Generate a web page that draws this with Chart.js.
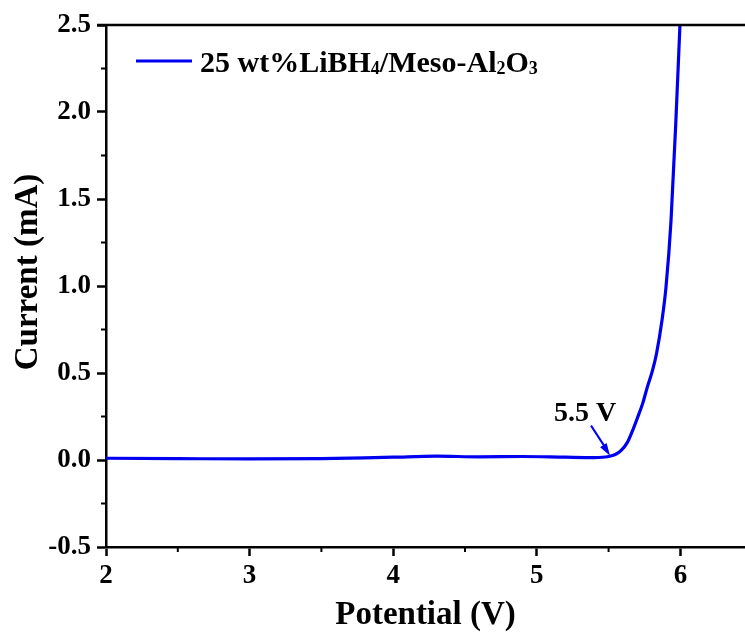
<!DOCTYPE html>
<html>
<head>
<meta charset="utf-8">
<script src="https://cdn.jsdelivr.net/npm/chart.js@4"></script>
<style>
  html, body { margin: 0; padding: 0; background: #fff; }
  #wrap { width: 745px; height: 635px; }
</style>
</head>
<body>
<div id="wrap"><canvas id="lsv"></canvas></div>
<script>
// Potential (V) / current (mA)
const potential = [2.0, 2.5, 3.0, 3.5, 3.8, 4.0, 4.3, 4.6, 4.9, 5.2, 5.4, 5.5, 5.55, 5.586, 5.63, 5.667, 5.70, 5.737, 5.77, 5.806, 5.834, 5.872, 5.90, 5.935, 5.969, 5.997];
const current = [0.01, 0.008, 0.006, 0.008, 0.012, 0.016, 0.022, 0.018, 0.02, 0.016, 0.014, 0.02, 0.033, 0.054, 0.1, 0.169, 0.24, 0.324, 0.42, 0.515, 0.612, 0.803, 0.995, 1.379, 1.956, 2.5];
const xTicks = [2, 3, 4, 5, 6];
const xMinor = [2.5, 3.5, 4.5, 5.5];
const yTicks = [-0.5, 0.0, 0.5, 1.0, 1.5, 2.0, 2.5];
const yMinor = [-0.25, 0.25, 0.75, 1.25, 1.75, 2.25];
const seriesLabel = ['25 wt%LiBH', '4', '/Meso-Al', '2', 'O', '3'];
const yTitle = 'Current (mA)';
const onsetLabel = '5.5 V';
const onset = [5.51, 0.025];

const FONT = '"Liberation Serif", "Times New Roman", serif';
const BLUE = 'rgb(0, 0, 240)';

// Ticks mineurs, bordure haute, légende, titre Y et flèche
const decor = {
    id: 'decor',
    afterDraw(chart) {
        const ctx = chart.ctx;
        const area = chart.chartArea;
        const xs = chart.scales.x;
        const ys = chart.scales.y;
        ctx.save();
        ctx.strokeStyle = '#000';
        ctx.lineWidth = 2;
        xMinor.forEach(v => {
            const px = xs.getPixelForValue(v);
            ctx.beginPath();
            ctx.moveTo(px, area.bottom);
            ctx.lineTo(px, area.bottom + 5);
            ctx.stroke();
        });
        yMinor.forEach(v => {
            const py = ys.getPixelForValue(v);
            ctx.beginPath();
            ctx.moveTo(area.left, py);
            ctx.lineTo(area.left - 5, py);
            ctx.stroke();
        });
        // bordure haute
        ctx.lineWidth = 2.5;
        ctx.beginPath();
        ctx.moveTo(area.left - 9, area.top);
        ctx.lineTo(area.right, area.top);
        ctx.stroke();

        // titre de l'axe Y
        ctx.save();
        ctx.translate(28, 272);
        ctx.rotate(-Math.PI / 2);
        ctx.fillStyle = '#000';
        ctx.font = 'bold 33px ' + FONT;
        ctx.textAlign = 'center';
        ctx.textBaseline = 'middle';
        ctx.fillText(yTitle, 0, 0);
        ctx.restore();

        // légende
        ctx.strokeStyle = BLUE;
        ctx.lineWidth = 3;
        ctx.beginPath();
        ctx.moveTo(area.left + 30, area.top + 36);
        ctx.lineTo(area.left + 86, area.top + 36);
        ctx.stroke();
        ctx.fillStyle = '#000';
        ctx.textBaseline = 'alphabetic';
        let x = area.left + 94;
        const base = area.top + 47;
        seriesLabel.forEach((part, i) => {
            const sub = i % 2 === 1;
            ctx.font = sub ? 'bold 18px ' + FONT : 'bold 30px ' + FONT;
            ctx.fillText(part, x, sub ? base + 2 : base);
            x += ctx.measureText(part).width;
        });

        // annotation 5.5 V
        const tipX = xs.getPixelForValue(onset[0]);
        const tipY = ys.getPixelForValue(onset[1]);
        ctx.font = 'bold 28px ' + FONT;
        ctx.textAlign = 'center';
        ctx.fillText(onsetLabel, tipX - 25, tipY - 35);
        const sx = tipX - 19, sy = tipY - 30;
        ctx.strokeStyle = BLUE;
        ctx.fillStyle = BLUE;
        ctx.lineWidth = 2;
        ctx.beginPath();
        ctx.moveTo(sx, sy);
        ctx.lineTo(tipX - 4, tipY - 7);
        ctx.stroke();
        const ang = Math.atan2(tipY - sy, tipX - sx);
        ctx.beginPath();
        ctx.moveTo(tipX, tipY);
        ctx.lineTo(tipX - 13 * Math.cos(ang - 0.3), tipY - 13 * Math.sin(ang - 0.3));
        ctx.lineTo(tipX - 13 * Math.cos(ang + 0.3), tipY - 13 * Math.sin(ang + 0.3));
        ctx.closePath();
        ctx.fill();
        ctx.restore();
    }
};

const ctx = document.getElementById('lsv').getContext('2d');
new Chart(ctx, {
    type: 'line',
    data: {
        datasets: [{
            label: '25 wt%LiBH4/Meso-Al2O3',
            data: potential.map((p, i) => ({ x: p, y: current[i] })),
            borderColor: BLUE,
            borderWidth: 3.2,
            pointRadius: 0,
            cubicInterpolationMode: 'monotone',
            fill: false
        }]
    },
    options: {
        responsive: true,
        maintainAspectRatio: false,
        animation: false,
        layout: { padding: { top: 25, right: 0, left: 0, bottom: 0 } },
        plugins: {
            legend: { display: false },
            tooltip: { enabled: false }
        },
        scales: {
            x: {
                type: 'linear',
                min: 2,
                max: 6.45,
                afterBuildTicks: s => { s.ticks = xTicks.map(v => ({ value: v })); },
                afterFit: s => { s.height = 88; },
                border: { color: '#000', width: 2.5 },
                grid: { drawOnChartArea: false, color: '#000', tickLength: 9, tickWidth: 2.5 },
                ticks: {
                    color: '#000',
                    padding: 4,
                    maxRotation: 0,
                    font: { family: FONT, size: 27, weight: 'bold' }
                },
                title: {
                    display: true,
                    text: 'Potential (V)',
                    color: '#000',
                    padding: { top: 0, bottom: 0 },
                    font: { family: FONT, size: 33, weight: 'bold' }
                }
            },
            y: {
                min: -0.5,
                max: 2.5,
                afterBuildTicks: s => { s.ticks = yTicks.map(v => ({ value: v })); },
                afterFit: s => { s.width = 106; },
                border: { color: '#000', width: 2.5 },
                grid: { drawOnChartArea: false, color: '#000', tickLength: 9, tickWidth: 2.5 },
                ticks: {
                    color: '#000',
                    padding: 6,
                    font: { family: FONT, size: 27, weight: 'bold' },
                    callback: v => v.toFixed(1)
                },
                title: { display: false }
            }
        }
    },
    plugins: [decor]
});
</script>
</body>
</html>
